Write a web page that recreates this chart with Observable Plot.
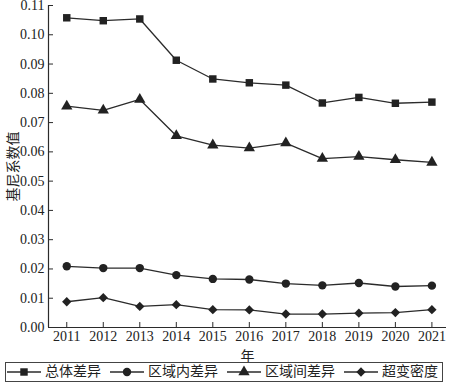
<!DOCTYPE html>
<html>
<head>
<meta charset="utf-8">
<script src="https://cdn.jsdelivr.net/npm/d3@7"></script>
<script src="https://cdn.jsdelivr.net/npm/@observablehq/plot@0.6"></script>
<style>
  html, body { margin: 0; padding: 0; background: #fff; }
  #wrap { width: 450px; font-family: "Liberation Serif", "Noto Sans CJK SC", serif; color: #222; }
  #wrap svg text { font-family: "Liberation Serif", "Noto Sans CJK SC", serif; }
  #legend { display: flex; align-items: center; box-sizing: border-box; margin-left: 5px; width: 438px; height: 20px; border: 1px solid #444; font-size: 14px; line-height: 14px; padding-left: 1px; white-space: nowrap; overflow: hidden; }
  .item { display: flex; align-items: center; margin-right: 9px; flex-shrink: 0; white-space: nowrap; }
  .item svg { margin-right: 4px; flex-shrink: 0; }
</style>
</head>
<body>
<div id="wrap"></div>
<script>
const years = [2011, 2012, 2013, 2014, 2015, 2016, 2017, 2018, 2019, 2020, 2021];
const seriesNames = ["总体差异", "区域内差异", "区域间差异", "超变密度"];
const symbols = ["square", "circle", "triangle", "diamond2"];
const totalDiff = [0.1058, 0.1048, 0.1054, 0.0913, 0.0849, 0.0836, 0.0828, 0.0767, 0.0786, 0.0766, 0.0770];
const withinDiff = [0.0209, 0.0203, 0.0203, 0.0179, 0.0166, 0.0164, 0.0150, 0.0144, 0.0152, 0.0140, 0.0143];
const betweenDiff = [0.0756, 0.0742, 0.0779, 0.0655, 0.0623, 0.0613, 0.0630, 0.0577, 0.0584, 0.0573, 0.0564];
const transvariation = [0.0088, 0.0102, 0.0072, 0.0078, 0.0061, 0.0060, 0.0046, 0.0046, 0.0049, 0.0051, 0.0061];
const yTicks = [0, 0.01, 0.02, 0.03, 0.04, 0.05, 0.06, 0.07, 0.08, 0.09, 0.10, 0.11];

const allValues = [totalDiff, withinDiff, betweenDiff, transvariation];
const data = [];
allValues.forEach((vals, si) => vals.forEach((v, i) => data.push({year: years[i], value: v, series: seriesNames[si], symbol: symbols[si]})));

const ink = "#2b2b2b";
const chart = Plot.plot({
  width: 450,
  height: 362,
  marginLeft: 48,
  marginRight: 4,
  marginTop: 5,
  marginBottom: 35,
  style: "font-family: 'Liberation Serif', 'Noto Sans CJK SC', serif; font-size: 14px; color: #222; background: #fff;",
  x: { domain: [2010.5, 2021.4] },
  y: { domain: [0, 0.11] },
  symbol: { domain: symbols, range: symbols },
  marks: [
    Plot.axisX({ ticks: years, tickFormat: d => String(d), tickSize: -5, tickPadding: 9, label: "年", labelAnchor: "center", labelArrow: "none", labelOffset: 33, fontSize: 14, stroke: ink }),
    Plot.axisY({ ticks: yTicks, tickFormat: d3.format(".2f"), tickSize: -5, tickPadding: 9, label: "基尼系数值", labelAnchor: "center", labelArrow: "none", labelOffset: 40, fontSize: 14, stroke: ink }),
    Plot.ruleX([2010.5], { stroke: ink, strokeWidth: 1.2 }),
    Plot.ruleY([0], { stroke: ink, strokeWidth: 1.2 }),
    Plot.line(data, { x: "year", y: "value", z: "series", stroke: ink, strokeWidth: 1.3 }),
    Plot.dot(data, { x: "year", y: "value", symbol: "symbol", r: 4.2, fill: "#222", stroke: "none" })
  ]
});

const wrap = document.getElementById("wrap");
wrap.appendChild(chart);

const legend = document.createElement("div");
legend.id = "legend";
const d3sym = { square: d3.symbolSquare, circle: d3.symbolCircle, triangle: d3.symbolTriangle, diamond2: d3.symbolDiamond2 };
seriesNames.forEach((name, i) => {
  const item = document.createElement("div");
  item.className = "item";
  const svg = d3.create("svg").attr("width", 34).attr("height", 14);
  svg.append("line").attr("x1", 0).attr("x2", 34).attr("y1", 7).attr("y2", 7).attr("stroke", ink).attr("stroke-width", 1.3);
  svg.append("path").attr("d", d3.symbol(d3sym[symbols[i]], Math.PI * 4.2 * 4.2)()).attr("transform", "translate(17,7)").attr("fill", "#222");
  item.appendChild(svg.node());
  const span = document.createElement("span");
  span.textContent = name;
  item.appendChild(span);
  legend.appendChild(item);
});
wrap.appendChild(legend);
</script>
</body>
</html>
